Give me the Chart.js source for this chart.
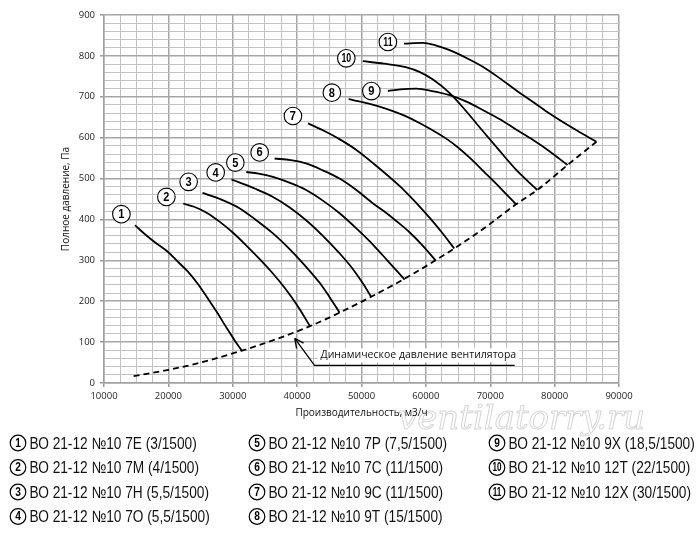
<!DOCTYPE html>
<html><head><meta charset="utf-8">
<script src="https://cdn.jsdelivr.net/npm/chart.js@4"></script>
<style>html,body{margin:0;padding:0;background:#fff}canvas{display:block}</style>
</head><body>
<canvas id="c" width="700" height="543" style="width:700px;height:543px"></canvas>
<script>
// ---- data (flow m3/h, pressure Pa) ----
const q1=[14800,16500,18000,19900,21500,23000,24500,26000,27500,29000,30300,31400];
const p1=[386,362,343,321,296,273,244,210,174,136,104,79];
const q2=[22300,24000,26000,28000,30000,32000,34000,36000,38000,40000,42000];
const p2=[439,431,416,394,368,338,306,272,234,190,139];
const q3=[25300,28000,31100,33500,36250,38800,41400,43500,45000,46600];
const p3=[465,450,427,400,366,328,284,245,211,172];
const q4=[29800,31100,33500,36250,38800,41400,44000,46600,48500,50200,51500];
const p4=[498,490,475,455,430,398,360,317,282,244,211];
const q5=[32100,34000,36250,38800,41400,44000,46600,49200,51800,54000,56700];
const p5=[516,512,504,490,472,446,415,378,338,300,253];
const q6=[36500,39000,41400,44000,46600,49200,51800,53500,55500,57500,59500,61500];
const p6=[549,545,537,520,500,472,439,420,395,368,336,300];
const q7=[41700,44000,46500,49200,52000,55900,57500,59000,60700,62500,64400];
const p7=[635,618,597,570,535,482,457,432,402,368,329];
const q8=[48000,51000,54000,56500,59000,61500,63500,65000,66800,69000,71500,74000];
const p8=[694,684,670,655,636,614,594,576,551,517,478,437];
const q9=[54100,56000,58500,61000,63700,66300,68900,71500,74000,76600,79200,82000];
const p9=[714,718,720,714,704,688,667,645,620,595,567,533];
const q10=[50200,53500,57000,59000,61100,63700,66300,68900,71500,74000,77300];
const p10=[787,781,772,761,742,709,664,615,567,522,472];
const q11=[56600,59500,61500,63700,66300,68900,71500,74000,76600,79200,83400,86500];
const p11=[830,832,826,814,795,773,745,716,688,659,618,590];
// dynamic pressure (dashed)
const qDyn=[14600,20000,25000,31400,36000,42000,46600,51500,56700,61500,64400,69000,74000,77300,82000,86500];
const pDyn=[17,32,50,79,103,139,172,211,255,300,329,378,437,472,533,590];
// callout arrow
const qArrow=[39630,42700,73800];
const pArrow=[109,43,43];
const arrowText='Динамическое давление вентилятора';
// curve number markers
const markerNums=['1','2','3','4','5','6','7','8','9','10','11'];
const markerQ=[12700,19690,23150,27350,30400,34180,39350,45400,51530,47640,54100];
const markerP=[413,455,492,515,539,564,653,710,714,794,834];
// legend
const legendNums=['1','2','3','4','5','6','7','8','9','10','11'];
const legendNames=['ВО 21-12 №10 7Е (3/1500)','ВО 21-12 №10 7М (4/1500)','ВО 21-12 №10 7Н (5,5/1500)','ВО 21-12 №10 7О (5,5/1500)',
'ВО 21-12 №10 7Р (7,5/1500)','ВО 21-12 №10 7С (11/1500)','ВО 21-12 №10 9С (11/1500)','ВО 21-12 №10 9Т (15/1500)',
'ВО 21-12 №10 9Х (18,5/1500)','ВО 21-12 №10 12Т (22/1500)','ВО 21-12 №10 12Х (30/1500)'];
const xTitle='Производительность, м3/ч';
const yTitle='Полное давление, Па';
const watermark='ventilatorry.ru';

const qs=[q1,q2,q3,q4,q5,q6,q7,q8,q9,q10,q11];
const ps=[p1,p2,p3,p4,p5,p6,p7,p8,p9,p10,p11];
const pts=(q,p)=>q.map((v,i)=>({x:v,y:p[i]}));

const datasets=qs.map((q,i)=>({data:pts(q,ps[i]),borderColor:'#000',borderWidth:1.8,pointRadius:0,showLine:true,cubicInterpolationMode:'monotone',fill:false}));
datasets.push({data:pts(qDyn,pDyn),borderColor:'#000',borderWidth:1.8,borderDash:[6,4],pointRadius:0,showLine:true,cubicInterpolationMode:'monotone',fill:false});
datasets.push({data:pts(qArrow,pArrow),borderColor:'#000',borderWidth:1.3,pointRadius:0,showLine:true,tension:0,fill:false});

const TICKFONT={family:'"Open Sans", sans-serif',size:9.5};
const GRIDMAJ='#a6a6a6', GRIDMIN='#c2c2c2';
const NARROW='"Liberation Sans", Arial, sans-serif';

function condensedText(ctx,t,x,y,sx,align){
  ctx.save();ctx.translate(x,y);ctx.scale(sx,1);ctx.textAlign=align;ctx.fillText(t,0,0);ctx.restore();
}

const overlay={
  id:'overlay',
  beforeDraw(chart){
    const ctx=chart.ctx;
    ctx.save();
    ctx.fillStyle='#fff';ctx.fillRect(0,0,chart.width,chart.height);
    // watermark
    ctx.font='italic 34px "DejaVu Serif", serif';
    ctx.strokeStyle='#d6d6d6';ctx.lineWidth=1;ctx.textAlign='left';ctx.textBaseline='alphabetic';
    ctx.strokeText(watermark,398,429);
    ctx.restore();
  },
  afterDatasetsDraw(chart){
    const {ctx,scales:{x,y}}=chart;
    ctx.save();
    // arrow head
    const hx=x.getPixelForValue(qArrow[0]),hy=y.getPixelForValue(pArrow[0]);
    const tx=x.getPixelForValue(qArrow[1]),ty=y.getPixelForValue(pArrow[1]);
    const ang=Math.atan2(ty-hy,tx-hx);
    ctx.strokeStyle='#000';ctx.lineWidth=1.3;
    ctx.beginPath();
    for(const d of [-0.45,0.45]){
      ctx.moveTo(hx,hy);
      ctx.lineTo(hx+10*Math.cos(ang+d),hy+10*Math.sin(ang+d));
    }
    ctx.stroke();
    // callout text
    ctx.font='10.5px "Open Sans", sans-serif';
    const lx=x.getPixelForValue(qArrow[1])+6, ly=y.getPixelForValue(pArrow[1])-10;
    const w=ctx.measureText(arrowText).width;
    ctx.fillStyle='#fff';ctx.fillRect(lx-3,ly-7,w+6,14);
    ctx.fillStyle='#111';ctx.textBaseline='middle';ctx.textAlign='left';
    ctx.fillText(arrowText,lx,ly);
    // markers
    markerNums.forEach((n,i)=>{
      const cx=x.getPixelForValue(markerQ[i]),cy=y.getPixelForValue(markerP[i]);
      ctx.beginPath();ctx.arc(cx,cy,8.8,0,Math.PI*2);
      ctx.fillStyle='#fff';ctx.fill();ctx.lineWidth=1.1;ctx.strokeStyle='#000';ctx.stroke();
      ctx.fillStyle='#000';ctx.textBaseline='middle';
      ctx.font='bold 13px '+NARROW;
      condensedText(ctx,n,cx,cy+0.5,n.length>1?0.68:0.85,'center');
    });
    ctx.restore();
  },
  afterDraw(chart){
    const ctx=chart.ctx;
    ctx.save();
    // legend
    const colX=[18,257,497], rowY=[443,467.5,492,516.5];
    legendNames.forEach((t,i)=>{
      const c=Math.floor(i/4), r=i%4;
      const cx=colX[c], cy=rowY[r];
      ctx.beginPath();ctx.arc(cx,cy,7.8,0,Math.PI*2);
      ctx.fillStyle='#fff';ctx.fill();ctx.lineWidth=1.2;ctx.strokeStyle='#000';ctx.stroke();
      ctx.fillStyle='#000';ctx.textBaseline='middle';
      ctx.font='bold 12px '+NARROW;
      condensedText(ctx,legendNums[i],cx,cy+0.5,legendNums[i].length>1?0.68:0.85,'center');
      ctx.font='16.5px '+NARROW;
      ctx.fillStyle='#111';
      condensedText(ctx,t,cx+11.5,cy+1,0.83,'left');
    });
    ctx.restore();
  }
};

new Chart(document.getElementById('c'),{
  type:'scatter',
  data:{datasets},
  options:{
    responsive:false,animation:false,devicePixelRatio:1,
    layout:{padding:{left:0,top:15,right:81,bottom:123}},
    plugins:{legend:{display:false},tooltip:{enabled:false}},
    scales:{
      x:{type:'linear',min:10000,max:90000,
        afterFit:s=>{s.height=37;},
        ticks:{stepSize:2500,autoSkip:false,maxRotation:0,padding:4,color:'#222',font:TICKFONT,
          callback:v=>v%10000===0?String(v):''},
        grid:{color:c=>c.tick&&c.tick.value%10000===0?GRIDMAJ:GRIDMIN,lineWidth:c=>c.tick&&c.tick.value%10000===0?1.5:1,
          tickLength:4,tickColor:c=>c.tick&&c.tick.value%10000===0?'#999':'rgba(0,0,0,0)'},
        border:{color:'#a0a0a0',width:1.5},
        title:{display:true,text:xTitle,color:'#111',font:{family:'"Open Sans", sans-serif',size:10},padding:{top:0,bottom:1}}
      },
      y:{type:'linear',min:0,max:900,
        afterFit:s=>{s.width=104;},
        ticks:{stepSize:20,autoSkip:false,padding:5,color:'#222',font:TICKFONT,
          callback:v=>v%100===0?String(v):''},
        grid:{color:c=>c.tick&&c.tick.value%100===0?GRIDMAJ:GRIDMIN,lineWidth:c=>c.tick&&c.tick.value%100===0?1.5:1,
          tickLength:4,tickColor:c=>c.tick&&c.tick.value%100===0?'#999':'rgba(0,0,0,0)'},
        border:{color:'#a0a0a0',width:1.5},
        title:{display:true,text:yTitle,color:'#111',font:{family:'"Open Sans", sans-serif',size:10},padding:{top:60,bottom:0}}
      }
    }
  },
  plugins:[overlay]
});
</script>
</body></html>
